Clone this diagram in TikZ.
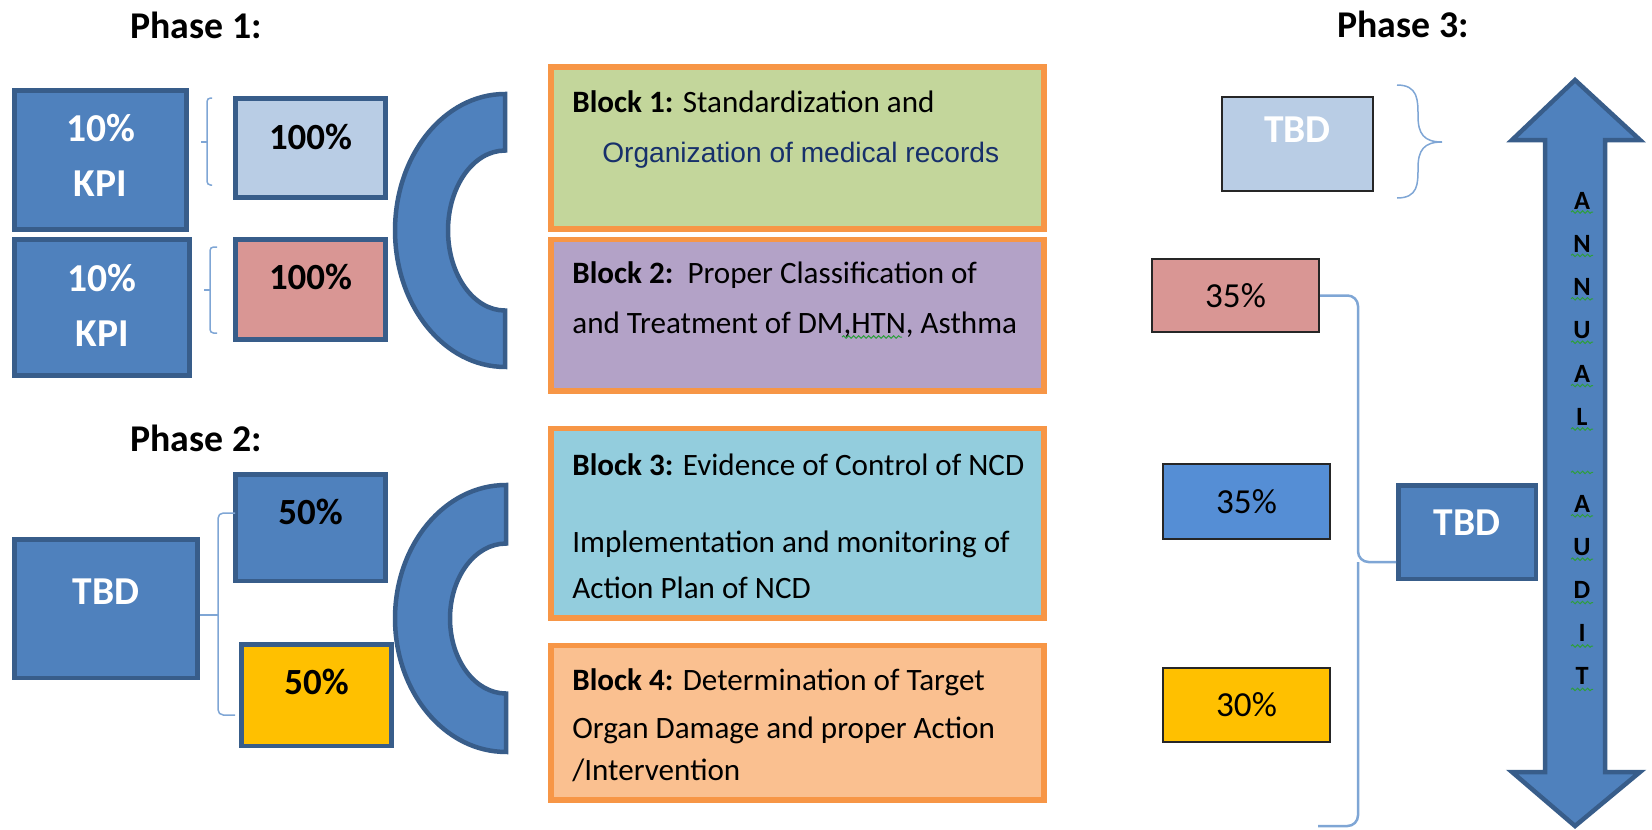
\documentclass[tikz,border=0pt]{standalone}
\usepackage{fontspec}
\setmainfont{Carlito}
\newfontfamily\arialfont{Liberation Sans}
\usetikzlibrary{positioning, decorations.pathmorphing}

\definecolor{tilefill}{HTML}{4F81BD}
\definecolor{tileedge}{HTML}{385D8A}
\definecolor{paleblue}{HTML}{B9CDE5}
\definecolor{rose}{HTML}{D99694}
\definecolor{gold}{HTML}{FFC000}
\definecolor{skyblue}{HTML}{558ED5}
\definecolor{blockedge}{HTML}{F79646}
\definecolor{sage}{HTML}{C3D69B}
\definecolor{lilac}{HTML}{B3A2C7}
\definecolor{aqua}{HTML}{93CDDD}
\definecolor{peach}{HTML}{FAC090}
\definecolor{bracketblue}{HTML}{7FA6D5}
\definecolor{navytext}{HTML}{17306B}
\definecolor{spellgreen}{HTML}{2E9E3E}

\tikzset{
  tile/.style={draw=tileedge, line width=0.09cm, fill=tilefill, inner sep=0pt},
  weight/.style={draw=black!85, line width=0.04cm, inner sep=0pt, font=\fontsize{20}{24}\selectfont},
  block/.style={draw=blockedge, line width=0.11cm, minimum width=9.87cm, inner sep=0pt},
  bracket/.style={draw=bracketblue, line width=0.03cm, rounded corners=3pt},
  whitebig/.style={text=white, font=\fontsize{22.5}{31.3}\selectfont\bfseries, align=center},
  blackbig/.style={text=black, font=\fontsize{21}{26}\selectfont\bfseries},
  phase/.style={font=\fontsize{21.5}{25}\selectfont\bfseries},
  blocktext/.style={font=\fontsize{17.7}{26}\selectfont, align=left, anchor=base west, inner sep=0pt},
  audittext/.style={font=\fontsize{15}{24.6}\selectfont\bfseries, align=center, inner sep=0pt},
  squiggle/.style={draw=spellgreen, line width=0.02cm, decorate,
    decoration={snake, amplitude=0.025cm, segment length=0.1cm}}
}

\begin{document}
\begin{tikzpicture}[x=0.02cm, y=-0.02cm]
  \useasboundingbox (0,0) rectangle (1652,829);

  % headings
  \node (phase1) [phase] at (196,25) {Phase 1:};
  \node (phase2) [phase] at (196,438) {Phase 2:};
  \node (phase3) [phase] at (1403,24) {Phase 3:};

  % phase 1 tiles
  \node (kpiA) [tile, minimum width=3.45cm, minimum height=2.79cm] at (100.5,160) {};
  \node (kpiB) [tile, minimum width=3.51cm, minimum height=2.73cm] at (102,307.5) {};
  \node (kpiAtxt) [whitebig] at ([yshift=0.09cm]kpiA.center) {10\%\\KPI};
  \node (kpiBtxt) [whitebig] at ([yshift=0.04cm]kpiB.center) {10\%\\KPI};

  \node (pctA) [tile, fill=paleblue, minimum width=3.01cm, minimum height=1.99cm] at (310.5,148) {};
  \node (pctB) [tile, fill=rose, minimum width=3.01cm, minimum height=2.01cm] at (310.5,289.5) {};
  \node (pctAtxt) [blackbig] at ([yshift=0.22cm]pctA.center) {100\%};
  \node (pctBtxt) [blackbig] at ([yshift=0.25cm]pctB.center) {100\%};

  % little braces between the tiles
  \draw[bracket, rounded corners=2pt] (212,98) -- (207,98) -- (207,185) -- (212,185);
  \draw[bracket] (207,142) -- (201,142);
  \draw[bracket, rounded corners=2pt] (217,247) -- (210,247) -- (210,333) -- (217,333);
  \draw[bracket] (210,290) -- (204,290);

  % phase 2 tiles
  \node (tbdA) [tile, minimum width=3.67cm, minimum height=2.77cm] at (106,608.5) {};
  \node (tbdAtxt) [whitebig] at ([yshift=0.33cm]tbdA.center) {TBD};
  \node (halfA) [tile, minimum width=3.01cm, minimum height=2.13cm] at (310.5,527.5) {};
  \node (halfB) [tile, fill=gold, minimum width=3.01cm, minimum height=2.03cm] at (316.5,695) {};
  \node (halfAtxt) [blackbig] at ([yshift=0.31cm]halfA.center) {50\%};
  \node (halfBtxt) [blackbig] at ([yshift=0.26cm]halfB.center) {50\%};

  \draw[bracket] (tbdA.east |- 218,615) -- (218,615);
  \draw[bracket] (235,513) -- (218,513) -- (218,715) -- (235,715);

  % half rings in front of the blocks
  \draw[tile] (505,94) arc[start angle=90, end angle=270, x radius=2.2cm, y radius=2.73cm]
    -- (505,310.5) arc[start angle=270, end angle=90, x radius=1.14cm, y radius=1.6cm] -- cycle;
  \draw[tile] (506,485) arc[start angle=90, end angle=270, x radius=2.22cm, y radius=2.67cm]
    -- (506,693.5) arc[start angle=270, end angle=90, x radius=1.12cm, y radius=1.5cm] -- cycle;

  % the four blocks
  \node (block1) [block, fill=sage, minimum height=3.25cm] at (797.5,148) {};
  \node (block2) [block, fill=lilac, minimum height=3.03cm, below=0.1cm of block1] {};
  \node (block3) [block, fill=aqua, minimum height=3.79cm, below=0.64cm of block2] {};
  \node (block4) [block, fill=peach, minimum height=3.09cm, below=0.44cm of block3] {};

  % text is placed by the baseline of its last line
  \node (block1txt) [blocktext] at (572,162) {\textbf{Block 1:} Standardization and\\[0.08cm]
    \hspace*{0.6cm}{\arialfont\fontsize{16}{26}\selectfont\color{navytext}Organization of medical records}};
  \node (block2txt) [blocktext] at (572,333) {\textbf{Block 2:}\ \ Proper Classification of\\[0.08cm]
    and Treatment of DM,HTN, Asthma};
  \node (block3txt) [blocktext] at (572,598) {\textbf{Block 3:} Evidence of Control of NCD\\[0.62cm]
    Implementation and monitoring of\\Action Plan of NCD};
  \node (block4txt) [blocktext] at (572,780) {\textbf{Block 4:} Determination of Target\\[0.04cm]
    Organ Damage and proper Action\\[-0.08cm]/Intervention};
  \draw[squiggle] (842,337) -- (902,337);

  % phase 3
  \node (tbdB) [weight, fill=paleblue, minimum width=3.02cm, minimum height=1.88cm] at (1297.5,144) {};
  \node (tbdBtxt) [whitebig] at ([yshift=0.28cm]tbdB.center) {TBD};
  \draw[bracketblue, line width=0.03cm] (1397,85) .. controls (1418,85) and (1418,100) .. (1418,116)
    .. controls (1418,134) and (1424,142) .. (1442,142)
    .. controls (1424,142) and (1418,150) .. (1418,168)
    .. controls (1418,184) and (1418,198) .. (1397,198);

  \node (wA) [weight, fill=rose, minimum width=3.34cm, minimum height=1.46cm] at (1235.5,295.5) {35\%};
  \node (wB) [weight, fill=skyblue, minimum width=3.34cm, minimum height=1.5cm] at (1246.5,501.5) {35\%};
  \node (wC) [weight, fill=gold, minimum width=3.34cm, minimum height=1.48cm] at (1246.5,705) {30\%};

  \node (tbdC) [tile, minimum width=2.75cm, minimum height=1.87cm] at (1467,532) {};
  \node (tbdCtxt) [whitebig] at ([yshift=0.18cm]tbdC.center) {TBD};

  \draw[bracket, line width=0.05cm, rounded corners=6pt] (wA.east) -- (1358,295.5) -- (1358,562)
    -- ([yshift=-0.6cm]tbdC.west);
  \draw[bracket, line width=0.05cm, rounded corners=6pt] (1358,562) -- (1358,826) -- (1318,826);

  % annual audit arrow
  \draw[tile] (1575,80) -- (1640,140) -- (1605,140) -- (1605,772) -- (1640,772) -- (1575,826)
    -- (1512,772) -- (1545,772) -- (1545,140) -- (1512,140) -- cycle;
  \node (audit) [audittext] at (1582,438.5) {A\\N\\N\\U\\A\\L\\[0.87cm]A\\U\\D\\I\\T};
  \foreach \k in {0,...,11}
    \draw[squiggle] (1571,{212+43.4*\k}) -- (1593,{212+43.4*\k});
\end{tikzpicture}
\end{document}
